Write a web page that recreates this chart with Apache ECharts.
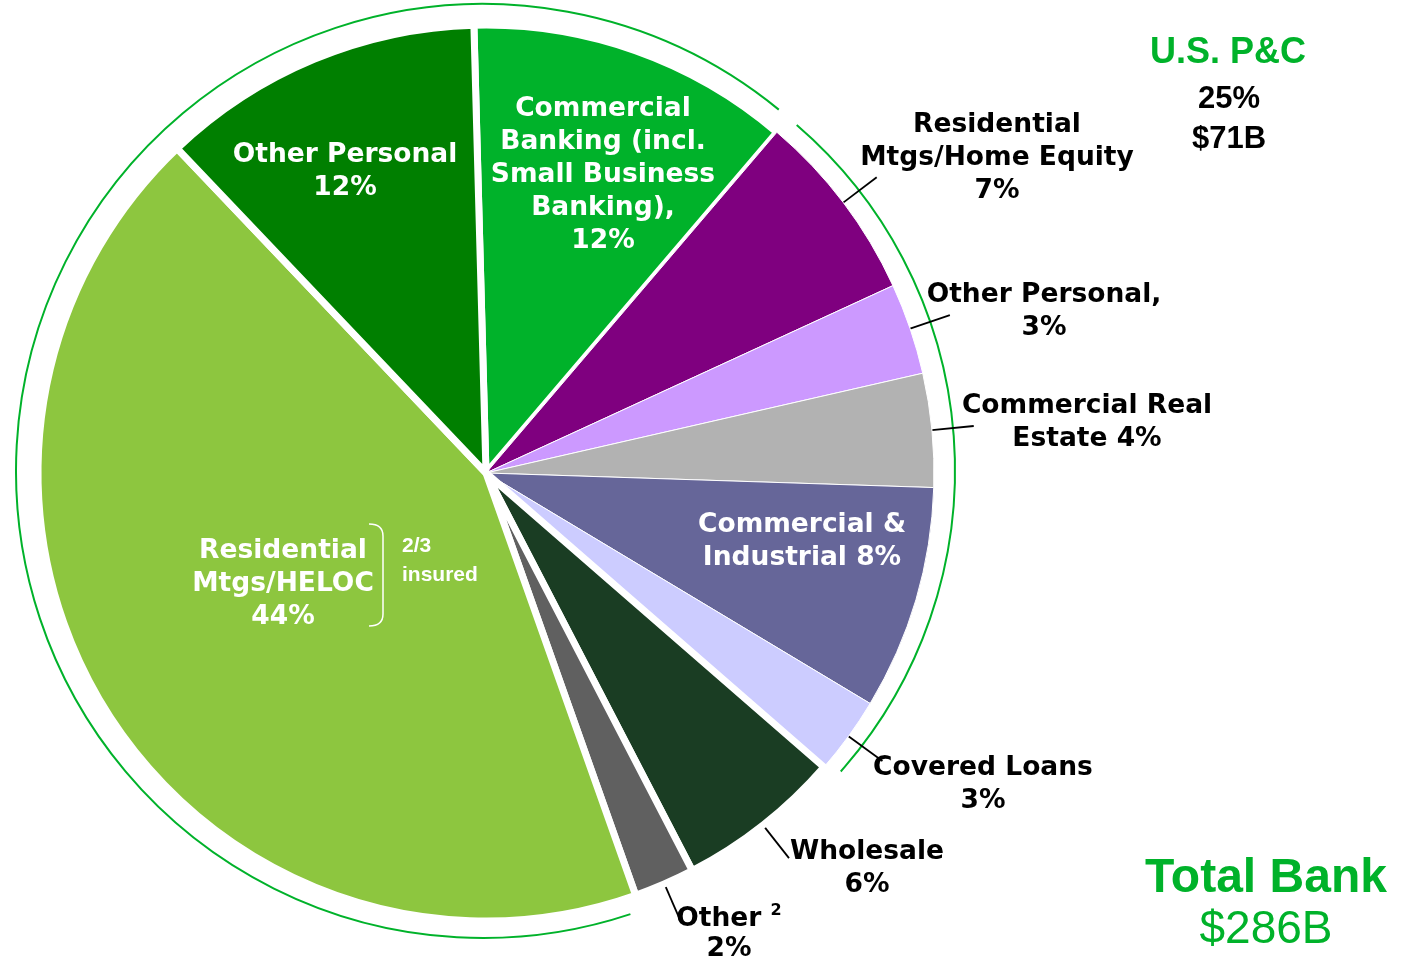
<!DOCTYPE html>
<html><head><meta charset="utf-8">
<script src="https://cdn.jsdelivr.net/npm/echarts@6/dist/echarts.min.js"></script>
<style>html,body{margin:0;padding:0;background:#fff}#c{width:1406px;height:958px}</style>
</head><body><div id="c"></div>
<script>
// slice order clockwise starting near 12 o'clock
const categories = ['Commercial Banking (incl. Small Business Banking)', 'Residential Mtgs/Home Equity', 'Other Personal (U.S. P&C)', 'Commercial Real Estate', 'Commercial & Industrial', 'Covered Loans', 'Wholesale', 'Other', 'Residential Mtgs/HELOC', 'Other Personal'];
// slice shares (%)
const shares = [11.7, 6.9, 3.3, 4.1, 8.1, 2.8, 6.0, 2.2, 43.4, 11.7];
const labelTexts = [
  'Commercial\nBanking (incl.\nSmall Business\nBanking),\n12%',
  'Residential\nMtgs/Home Equity\n7%',
  'Other Personal,\n3%',
  'Commercial Real\nEstate 4%',
  'Commercial &\nIndustrial 8%',
  'Covered Loans\n3%',
  'Wholesale\n6%',
  '{a|Other }{s|2}\n{a|2%}',
  'Residential\nMtgs/HELOC\n44%',
  'Other Personal\n12%'
];
const usPC = ['U.S. P&C', '25%', '$71B'];
const totalBank = ['Total Bank', '$286B'];
const insuredNote = ['2/3', 'insured'];

// styling (not data)
const colors = ['#00B22A','#7F007F','#CC99FF','#B2B2B2','#666699','#CCCCFF','#1A3D23','#606060','#8DC63F','#007F00'];
const insideIdx = [0, 4, 8, 9];
const pcIdx = [1, 2, 3, 4, 5];
const labelPos = [[603,175],[997,158],[1044,312],[1087,423],[802,542],[983,785],[867,869],[729,934],[283,584],[345,172]];
const GREEN = '#00B22A';
const FF = 'DejaVu Sans';
const FS = 26.5;

const chart = echarts.init(document.getElementById('c'), null, {renderer:'canvas'});
const deg = Math.PI/180;

const data = categories.map((name, i) => {
  const inside = insideIdx.includes(i);
  return {
    name, value: shares[i],
    itemStyle: {color: colors[i], borderColor:'#fff', borderWidth: pcIdx.includes(i) ? 1 : 7},
    label: inside ? {position:'inside', color:'#fff'} : {position:'outside', color:'#000'},
    labelLine: {show: !inside}
  };
});

chart.setOption({
  animation: false,
  backgroundColor: '#fff',
  series: [{
    type: 'pie',
    center: [486, 473],
    radius: [0, 448],
    startAngle: 91.55,
    clockwise: true,
    avoidLabelOverlap: false,
    label: {
      show: true, fontFamily: FF, fontWeight: 'bold', fontSize: FS, lineHeight: 33,
      formatter: p => labelTexts[p.dataIndex],
      rich: {
        a: {fontFamily: FF, fontWeight: 'bold', fontSize: FS, lineHeight: 30, color:'#000'},
        s: {fontFamily: FF, fontWeight: 'bold', fontSize: 16, lineHeight: 30, color:'#000', padding:[0,0,16,0]}
      }
    },
    labelLine: {show: true, length: 42, length2: 0, lineStyle: {color:'#000', width: 1.8}},
    labelLayout: p => ({
      x: labelPos[p.dataIndex][0], y: labelPos[p.dataIndex][1],
      align: 'center', verticalAlign: 'middle',
      labelLinePoints: p.labelLinePoints
    }),
    data
  }],
  graphic: [
    {type:'arc', shape:{cx:483, cy:471, r:467, startAngle:71.6*deg, endAngle:309.3*deg, clockwise:true},
     style:{stroke:GREEN, lineWidth:2, fill:null}},
    {type:'arc', shape:{cx:500, cy:470, r:455, startAngle:-49.3*deg, endAngle:41.5*deg, clockwise:true},
     style:{stroke:GREEN, lineWidth:2, fill:null}},
    {type:'text', x:1228, y:53, style:{text:usPC[0], fill:GREEN, font:'bold 36px "Liberation Sans", Arial', align:'center', verticalAlign:'middle'}},
    {type:'text', x:1229, y:99, style:{text:usPC[1], fill:'#000', font:'bold 31px "Liberation Sans", Arial', align:'center', verticalAlign:'middle'}},
    {type:'text', x:1229, y:139, style:{text:usPC[2], fill:'#000', font:'bold 31px "Liberation Sans", Arial', align:'center', verticalAlign:'middle'}},
    {type:'text', x:1266, y:879, style:{text:totalBank[0], fill:GREEN, font:'bold 48px "Liberation Sans", Arial', align:'center', verticalAlign:'middle'}},
    {type:'text', x:1266, y:930, style:{text:totalBank[1], fill:GREEN, font:'46px "Liberation Sans", Arial', align:'center', verticalAlign:'middle'}},
    {type:'text', x:402, y:546, z:100, style:{text:insuredNote[0], fill:'#fff', font:'bold 21px "Liberation Sans", Arial', align:'left', verticalAlign:'middle'}},
    {type:'text', x:402, y:575, z:100, style:{text:insuredNote[1], fill:'#fff', font:'bold 21px "Liberation Sans", Arial', align:'left', verticalAlign:'middle'}},
    {type:'bezierCurve', z:100, shape:{x1:369, y1:524, x2:383, y2:536, cpx1:383, cpy1:524}, style:{stroke:'#fff', lineWidth:1.5, fill:null}},
    {type:'line', z:100, shape:{x1:383, y1:536, x2:383, y2:614}, style:{stroke:'#fff', lineWidth:1.5}},
    {type:'bezierCurve', z:100, shape:{x1:383, y1:614, x2:369, y2:626, cpx1:383, cpy1:626}, style:{stroke:'#fff', lineWidth:1.5, fill:null}}
  ]
});
</script></body></html>
